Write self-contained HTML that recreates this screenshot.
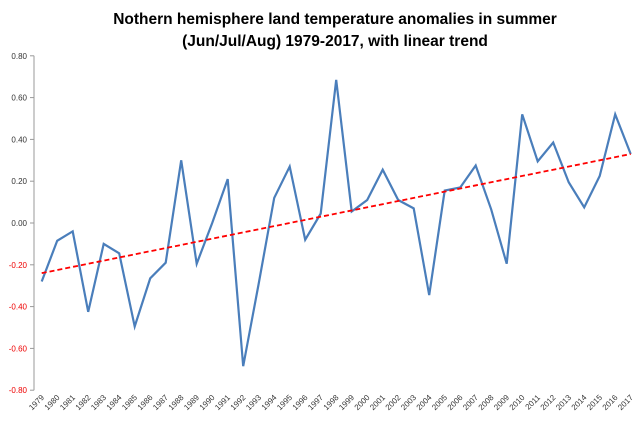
<!DOCTYPE html>
<html><head><meta charset="utf-8"><style>
body{margin:0;background:#fff;width:640px;height:422px;overflow:hidden;font-family:"Liberation Sans",sans-serif}
</style></head><body>
<svg width="640" height="422" id="svg" xmlns="http://www.w3.org/2000/svg">
<text x="335" y="24" text-anchor="middle" font-size="15.5" font-weight="bold">Nothern hemisphere land temperature anomalies in summer</text>
<text x="335" y="46" text-anchor="middle" font-size="15.5" font-weight="bold">(Jun/Jul/Aug) 1979-2017, with linear trend</text>
</svg>
<script>
const years=[];for(let y=1979;y<=2017;y++)years.push(y);
const values=[-0.28,-0.085,-0.04,-0.425,-0.10,-0.145,-0.495,-0.265,-0.19,0.30,-0.195,0.00,0.21,-0.685,-0.29,0.12,0.27,-0.08,0.045,0.685,0.055,0.11,0.255,0.11,0.07,-0.345,0.155,0.17,0.275,0.065,-0.195,0.52,0.295,0.385,0.195,0.075,0.225,0.52,0.33];
const trendStart=-0.24, trendEnd=0.33;
const yTicks=[0.8,0.6,0.4,0.2,0,-0.2,-0.4,-0.6,-0.8];
const svg=document.getElementById('svg');const NS='http://www.w3.org/2000/svg';
const x0=41.7,dx=15.5;
const xs=i=>x0+i*dx;
const ys=v=>223-v*209;
function mk(t,a,p){const e=document.createElementNS(NS,t);for(const k in a)e.setAttribute(k,a[k]);(p||svg).appendChild(e);return e;}
const ax=mk('line',{x1:34,y1:ys(0.8),x2:34,y2:ys(-0.8),stroke:'#999'});


yTicks.forEach(v=>{
 const tk=mk('line',{x1:30,x2:34,y1:ys(v),y2:ys(v),stroke:'#999'});
 
 
 const t=mk('text',{x:27,y:ys(v)+3,'text-anchor':'end','font-size':'8',fill:v<0?'#e00':'#333'});
 t.textContent=v.toFixed(2).replace('-0.00','0.00');
 
 
});
years.forEach((y,i)=>{
 const t=mk('text',{x:xs(i)+3,y:398,'text-anchor':'end','font-size':'8',fill:'#333',transform:`rotate(-45 ${xs(i)+3} 398)`});
 t.textContent=y;
 
 
});
const line=mk('polyline',{points:values.map((v,i)=>xs(i)+','+ys(v)).join(' '),fill:'none',stroke:'#4a7ebb','stroke-width':2.2,'stroke-linejoin':'miter'});


const tr=mk('line',{x1:xs(0),y1:ys(trendStart),x2:xs(values.length-1),y2:ys(trendEnd),stroke:'#f00','stroke-width':1.8,'stroke-dasharray':'5,3'});


</script>
</body></html>
